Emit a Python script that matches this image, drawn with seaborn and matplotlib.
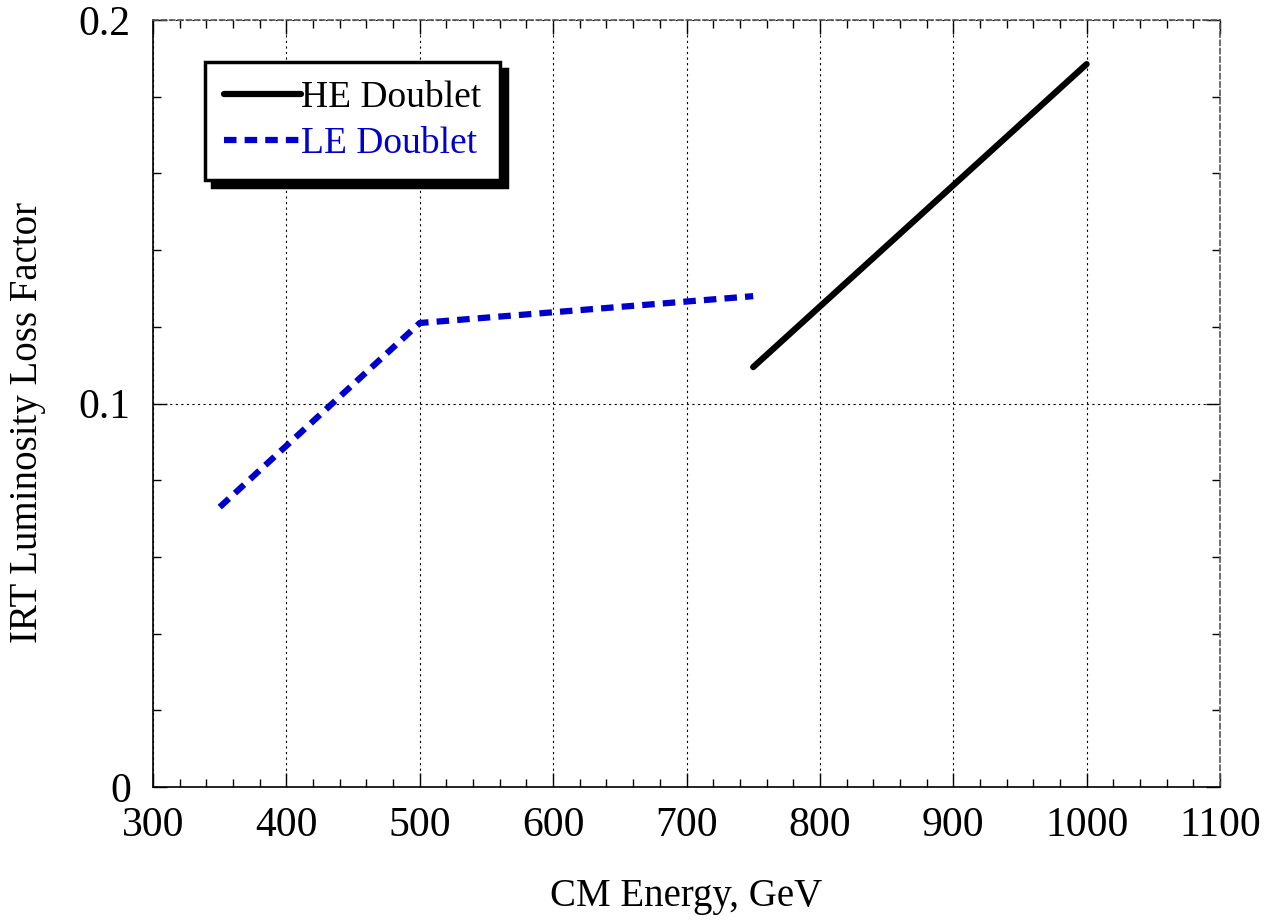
import matplotlib
matplotlib.use("Agg")
import matplotlib.pyplot as plt
import pandas as pd
import seaborn as sns
from matplotlib.ticker import MultipleLocator


he_energy = [750, 1000]
he_loss = [0.1095, 0.1885]

le_energy = [350, 500, 750]
le_loss = [0.073, 0.121, 0.128]

series_names = ["HE Doublet", "LE Doublet"]
series_colors = ["#000000", "#0000CC"]

y_ticks = [0, 0.1, 0.2]
y_tick_labels = ["0", "0.1", "0.2"]


def build_frame():
    he = pd.DataFrame({"energy": he_energy, "loss": he_loss, "series": series_names[0]})
    le = pd.DataFrame({"energy": le_energy, "loss": le_loss, "series": series_names[1]})
    return pd.concat([he, le], ignore_index=True)


def main():
    df = build_frame()

    sns.set_style("ticks")
    plt.rcParams["font.family"] = ["Liberation Serif", "DejaVu Serif"]
    plt.rcParams["text.color"] = "black"
    plt.rcParams["axes.labelcolor"] = "black"

    fig = plt.figure(figsize=(12.65, 9.23), dpi=100)
    ax = fig.add_axes([0.121, 0.1473, 0.8434, 0.831])

    sns.lineplot(
        data=df,
        x="energy",
        y="loss",
        hue="series",
        style="series",
        palette=dict(zip(series_names, series_colors)),
        dashes={series_names[0]: "", series_names[1]: (2.0, 1.3)},
        linewidth=4.5,
        sort=False,
        ax=ax,
    )
    for line in ax.get_lines():
        line.set_solid_capstyle("round")
        line.set_dash_capstyle("butt")

    ax.set_xlim(300, 1100)
    ax.set_ylim(0, 0.2)
    ax.xaxis.set_major_locator(MultipleLocator(100))
    ax.xaxis.set_minor_locator(MultipleLocator(20))
    ax.set_yticks(y_ticks)
    ax.set_yticklabels(y_tick_labels)
    ax.yaxis.set_minor_locator(MultipleLocator(0.02))

    ax.tick_params(which="both", direction="in", top=True, right=True,
                   labelsize=30, colors="black")
    ax.tick_params(axis="x", which="major", length=10, width=1, pad=14)
    ax.tick_params(axis="y", which="major", length=10, width=1, pad=16)
    ax.tick_params(which="minor", length=6, width=1)

    ax.grid(True, which="major", color="black", linestyle=(0, (2, 3)), linewidth=0.8)
    for side in ["left", "bottom"]:
        ax.spines[side].set_color("black")
        ax.spines[side].set_linewidth(1.2)
    for side in ["top", "right"]:
        ax.spines[side].set_color("#555555")
        ax.spines[side].set_linestyle((0, (3, 2)))
        ax.spines[side].set_linewidth(1.2)

    ax.set_xlabel("CM Energy, GeV", fontsize=28, labelpad=24)
    ax.set_ylabel("IRT Luminosity Loss Factor", fontsize=28)
    ax.yaxis.set_label_coords(-0.1, 0.475)

    legend = ax.legend(
        loc="upper left",
        bbox_to_anchor=(0.049, 0.945),
        fontsize=27,
        frameon=True,
        fancybox=False,
        shadow={"color": "black", "alpha": 1.0, "ox": 5, "oy": -5},
        handlelength=2.05,
        handletextpad=0.0,
        borderpad=0.5,
        labelspacing=0.3,
        borderaxespad=0,
    )
    legend.get_frame().set_edgecolor("black")
    legend.get_frame().set_linewidth(2.5)
    legend.get_frame().set_facecolor("white")
    for text, color in zip(legend.get_texts(), series_colors):
        text.set_color(color)

    fig.savefig("out.png", dpi=100)
    plt.close(fig)


if __name__ == "__main__":
    main()
